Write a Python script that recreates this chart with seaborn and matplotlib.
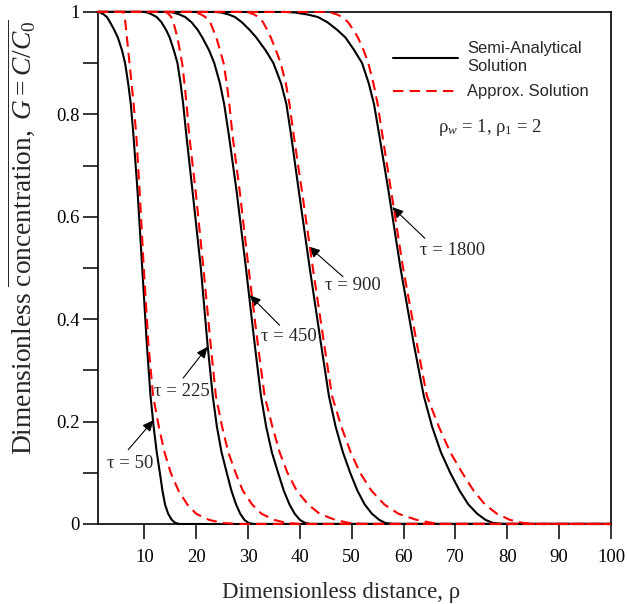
import matplotlib
matplotlib.use("Agg")
import matplotlib.pyplot as plt
import seaborn as sns
from matplotlib.lines import Line2D

G_LEVELS = [1, 1, 0.999, 0.995, 0.99, 0.98, 0.965, 0.95, 0.925, 0.9, 0.86,
            0.82, 0.76, 0.65, 0.5, 0.35, 0.25, 0.19, 0.14, 0.1, 0.065,
            0.038, 0.02, 0.008, 0.002, 0, 0]

# distance rho for each level, semi-analytical solution (black)
SEMI_50 = [1, 1.0, 1.5, 2.2, 2.8, 3.4, 4.2, 4.9, 5.7, 6.3, 6.9,
           7.4, 7.9, 8.7, 9.6, 10.5, 11.2, 11.8, 12.4, 13.0, 13.5,
           14.0, 14.6, 15.3, 16.0, 16.8, 100]
SEMI_225 = [1, 9.8, 10.6, 11.5, 12.4, 13.3, 14.2, 14.9, 15.7, 16.4, 17.0,
            17.5, 18.1, 19.3, 20.9, 22.2, 23.2, 24.0, 24.9, 25.9, 26.8,
            27.7, 28.5, 29.3, 30.1, 31.0, 100]
SEMI_450 = [1, 14.5, 15.5, 16.8, 17.9, 19.1, 20.3, 21.2, 22.5, 23.5, 24.6,
            25.4, 26.3, 27.8, 29.6, 31.3, 32.5, 33.5, 34.6, 35.8, 36.9,
            38.0, 39.0, 40.0, 41.0, 42.0, 100]
SEMI_900 = [1, 23.5, 24.8, 26.3, 27.5, 28.8, 30.3, 31.6, 33.4, 34.9, 36.4,
            37.4, 38.3, 39.8, 41.9, 44.1, 45.6, 46.9, 48.3, 49.7, 51.1,
            52.5, 53.9, 55.3, 56.5, 58.0, 100]
SEMI_1800 = [1, 37.0, 39.0, 41.5, 43.5, 45.3, 47.2, 48.8, 50.5, 52.0, 53.3,
             54.3, 55.3, 57.1, 59.4, 62.0, 63.9, 65.5, 67.2, 69.0, 70.8,
             72.5, 74.2, 75.8, 77.2, 79.0, 100]

# approximate solution (red dashed)
APPROX_50 = [1, 5.8, 5.95, 6.1, 6.2, 6.35, 6.5, 6.65, 6.9, 7.15, 7.55,
             7.95, 8.45, 9.1, 9.9, 10.8, 11.7, 12.8, 13.9, 15.1, 16.6,
             18.3, 20.0, 22.5, 25.0, 28.0, 100]
APPROX_225 = [1, 14.0, 14.3, 14.8, 15.2, 15.6, 16.0, 16.4, 16.85, 17.3, 17.75,
              18.15, 18.65, 19.9, 21.4, 22.8, 23.8, 25.0, 26.2, 27.6, 29.0,
              30.8, 32.6, 35.0, 37.5, 40.0, 100]
APPROX_450 = [1, 19.5, 20.0, 21.0, 21.8, 22.7, 23.3, 23.9, 24.6, 25.3, 25.9,
              26.4, 27.0, 28.4, 30.1, 31.9, 33.2, 34.7, 36.1, 37.6, 39.4,
              41.6, 43.8, 46.8, 49.5, 52.0, 100]
APPROX_900 = [1, 29.5, 30.2, 31.2, 32.0, 32.9, 33.7, 34.4, 35.4, 36.3, 37.3,
              38.0, 38.8, 40.4, 42.5, 44.7, 46.2, 48.0, 49.8, 51.6, 53.8,
              56.3, 59.0, 62.5, 65.5, 68.0, 100]
APPROX_1800 = [1, 45.0, 45.9, 47.2, 48.2, 49.3, 50.3, 51.2, 52.3, 53.2, 54.2,
               55.0, 55.9, 57.6, 59.9, 62.6, 64.5, 66.8, 69.0, 71.3, 73.5,
               75.7, 78.0, 80.5, 83.0, 86.0, 100]

TAU_LABELS = ["τ = 50", "τ = 225", "τ = 450", "τ = 900", "τ = 1800"]

X_TICKS = [10, 20, 30, 40, 50, 60, 70, 80, 90, 100]
X_TICK_LABELS = ["10", "20", "30", "40", "50", "60", "70", "80", "90", "100"]
Y_TICKS = [0, 0.1, 0.2, 0.3, 0.4, 0.5, 0.6, 0.7, 0.8, 0.9, 1]
Y_TICK_LABELS = ["0", "", "0.2", "", "0.4", "", "0.6", "", "0.8", "", "1"]

# label placement: (text centre, arrow tail, arrow tip) in data coords
TAU_POS = [
    ((7.2, 0.119), (6.9, 0.145), (11.8, 0.203)),
    ((17.3, 0.258), (17.5, 0.285), (22.2, 0.346)),
    ((37.8, 0.367), (36.1, 0.388), (30.3, 0.447)),
    ((50.2, 0.465), (48.3, 0.483), (41.7, 0.542)),
    ((69.4, 0.535), (64.1, 0.558), (57.8, 0.619)),
]

RED = "#ff0000"
DASH = (0, (5, 3))


def main():
    sns.set_style("ticks")
    plt.rcParams["font.family"] = ["Liberation Serif", "DejaVu Serif"]
    plt.rcParams["mathtext.fontset"] = "custom"
    plt.rcParams["mathtext.rm"] = "Liberation Serif"
    plt.rcParams["mathtext.it"] = "Liberation Serif:italic"
    plt.rcParams["mathtext.bf"] = "Liberation Serif:bold"

    fig = plt.figure(figsize=(6.27, 6.04), dpi=100)
    ax = fig.add_axes([0.1557, 0.1325, 0.8188, 0.8477])

    semi = [SEMI_50, SEMI_225, SEMI_450, SEMI_900, SEMI_1800]
    approx = [APPROX_50, APPROX_225, APPROX_450, APPROX_900, APPROX_1800]

    for xs in semi:
        sns.lineplot(x=xs, y=G_LEVELS, ax=ax, color="black", lw=1.5,
                     sort=False, estimator=None, clip_on=False, zorder=3)
    for xs in approx:
        sns.lineplot(x=xs, y=G_LEVELS, ax=ax, color=RED, lw=1.5,
                     linestyle=DASH, sort=False, estimator=None,
                     clip_on=False, zorder=4)

    ax.set_xlim(1, 100)
    ax.set_ylim(0, 1)
    ax.set_xticks(X_TICKS)
    ax.set_xticklabels(X_TICK_LABELS)
    ax.set_yticks(Y_TICKS)
    ax.set_yticklabels(Y_TICK_LABELS)
    ax.tick_params(axis="both", direction="out", length=11, width=1.1,
                   labelsize=13.5, color="black", labelcolor="black")
    ax.tick_params(axis="x", pad=7)
    ax.tick_params(axis="y", pad=2)
    for sp in ax.spines.values():
        sp.set_visible(True)
        sp.set_linewidth(1.2)
        sp.set_color("black")

    ax.set_xlabel("Dimensionless distance, ρ", fontsize=16.5)
    ax.xaxis.set_label_coords(0.475, -0.113)
    ax.set_ylabel(r"Dimensionless $\overline{\mathrm{concentration,}\ G = C/C_0}$",
                  fontsize=19.8)
    ax.yaxis.set_label_coords(-0.118, 0.56)

    for label, (txt, tail, tip) in zip(TAU_LABELS, TAU_POS):
        ax.annotate("", xy=tip, xytext=tail,
                    arrowprops=dict(arrowstyle="-|>,head_length=0.45,head_width=0.2",
                                    color="black", lw=0.8, mutation_scale=15,
                                    shrinkA=0, shrinkB=0))
        ax.text(txt[0], txt[1], label, fontsize=13.5, ha="center", va="center")

    ax.text(66.6, 0.766, "ρ$_w$ = 1, ρ$_1$ = 2", fontsize=13.5,
            ha="left", va="baseline")

    handles = [Line2D([], [], color="black", lw=1.5),
               Line2D([], [], color=RED, lw=1.5, linestyle=DASH)]
    ax.legend(handles, ["Semi-Analytical\nSolution", "Approx. Solution"],
              loc="upper left", bbox_to_anchor=(0.575, 0.943), frameon=False,
              borderpad=0, borderaxespad=0, handlelength=3.94,
              handletextpad=0.55, labelspacing=0.65,
              prop={"family": "Liberation Sans", "size": 11.9})

    fig.savefig("out.png", dpi=100)
    plt.close(fig)


if __name__ == "__main__":
    main()
